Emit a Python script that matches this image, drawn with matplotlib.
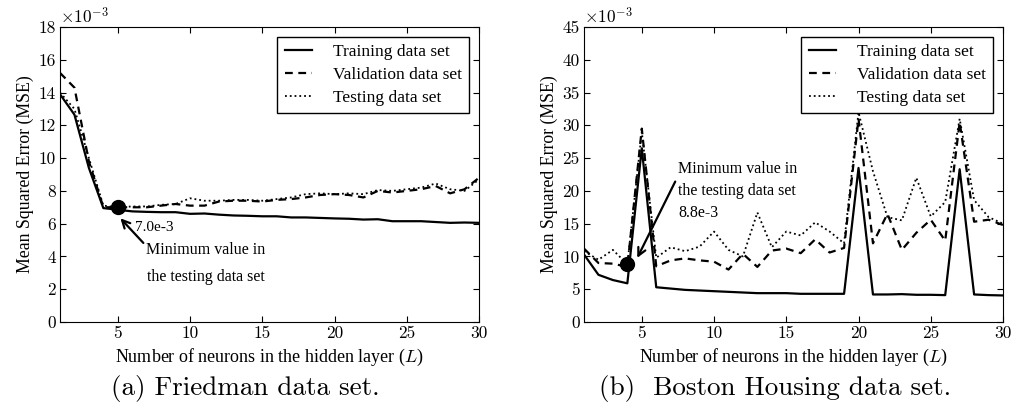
import numpy as np
import matplotlib.pyplot as plt

plt.rcParams['font.family'] = ['Liberation Serif', 'DejaVu Serif']
plt.rcParams['mathtext.fontset'] = 'cm'

neurons = np.arange(1, 31)

# values in units of 1e-3
fried_train = [13.9, 12.65, 9.4, 6.95, 6.85, 6.75, 6.72, 6.7, 6.7, 6.6,
               6.62, 6.55, 6.5, 6.48, 6.45, 6.45, 6.38, 6.38, 6.35, 6.32,
               6.3, 6.25, 6.27, 6.15, 6.15, 6.15, 6.1, 6.05, 6.07, 6.05]
fried_val = [15.2, 14.3, 9.8, 7.0, 7.0, 7.0, 7.0, 7.1, 7.2, 7.1,
             7.1, 7.35, 7.4, 7.4, 7.35, 7.45, 7.5, 7.6, 7.75, 7.8,
             7.75, 7.6, 8.0, 7.9, 8.0, 8.1, 8.3, 7.85, 8.1, 8.8]
fried_test = [14.0, 13.0, 10.0, 7.1, 7.0, 7.05, 7.05, 7.15, 7.2, 7.55,
              7.4, 7.4, 7.45, 7.45, 7.4, 7.5, 7.6, 7.8, 7.85, 7.8,
              7.85, 7.8, 8.05, 8.0, 8.1, 8.2, 8.45, 8.1, 8.0, 8.7]

boston_train = [10.3, 7.2, 6.4, 5.9, 26.5, 5.3, 5.1, 4.9, 4.8, 4.7,
                4.6, 4.5, 4.4, 4.4, 4.4, 4.3, 4.3, 4.3, 4.3, 23.5,
                4.2, 4.2, 4.25, 4.15, 4.15, 4.1, 23.3, 4.2, 4.1, 4.05]
boston_val = [11.2, 9.0, 8.9, 8.4, 29.5, 8.5, 9.4, 9.7, 9.4, 9.2,
              8.0, 10.4, 8.4, 10.9, 11.2, 10.5, 12.6, 10.6, 11.3, 31.0,
              12.0, 16.5, 11.0, 13.6, 15.6, 12.4, 30.5, 15.3, 15.6, 14.8]
boston_test = [10.8, 9.5, 11.0, 8.8, 29.0, 9.8, 11.4, 10.8, 11.5, 13.8,
               11.0, 10.0, 16.7, 11.4, 13.8, 13.2, 15.2, 13.8, 12.0, 32.0,
               23.0, 16.0, 15.5, 22.0, 16.1, 18.3, 31.0, 18.6, 16.0, 15.0]

panels = [
    dict(train=fried_train, val=fried_val, test=fried_test, ymax=18, ystep=2,
         best=5, best_val=7.0, caption='(a) Friedman data set.', cx=245),
    dict(train=boston_train, val=boston_val, test=boston_test, ymax=45, ystep=5,
         best=4, best_val=8.8, caption='(b)  Boston Housing data set.', cx=775),
]

fig = plt.figure(figsize=(10.12, 4.05), dpi=100)
ax1 = fig.add_axes([60/1012, 1-322/405, 419/1012, 295/405])
ax2 = fig.add_axes([584/1012, 1-322/405, 419/1012, 295/405])

for ax, p in zip([ax1, ax2], panels):
    ax.plot(neurons, p['train'], color='black', lw=1.6, ls='-', label='Training data set')
    ax.plot(neurons, p['val'], color='black', lw=1.6, dashes=(3.5, 2.5), label='Validation data set')
    ax.plot(neurons, p['test'], color='black', lw=1.3, ls=':', label='Testing data set')
    ax.plot([p['best']], [p['best_val']], 'o', color='black', ms=10, zorder=5)
    ax.set_xlim(1, 30)
    ax.set_ylim(0, p['ymax'])
    ax.set_xticks([5, 10, 15, 20, 25, 30])
    ax.set_yticks(np.arange(0, p['ymax'] + 1, p['ystep']))
    ax.tick_params(direction='in', top=True, right=True, length=4, labelsize=12.5,
                   labelfontfamily='cmr10', pad=3)
    ax.set_xlabel('Number of neurons in the hidden layer ($L$)', fontsize=13, labelpad=4)
    ax.set_ylabel('Mean Squared Error (MSE)', fontsize=12.8, labelpad=3)
    ax.text(0.0, 1.0, r'$\times10^{-3}$', transform=ax.transAxes, fontsize=12.5,
            ha='left', va='bottom')
    leg = ax.legend(loc='upper right', fontsize=12.5, fancybox=False, edgecolor='black',
                    framealpha=1, handlelength=1.6, handletextpad=1.2,
                    borderaxespad=0.55, labelspacing=0.4, borderpad=0.42)
    leg.get_frame().set_linewidth(1.0)
    fig.text(p['cx']/1012, 1-388/405, p['caption'], fontfamily='cmr10', fontsize=19.5,
             ha='center', va='center')

ax1.annotate('', xy=(5.05, 6.45), xytext=(6.9, 4.7),
             arrowprops=dict(arrowstyle='->', color='black', lw=1.6, mutation_scale=14))
ax1.text(6.2, 5.75, '7.0e-3', fontsize=11, ha='left', va='center')
ax1.text(11.1, 3.57, 'Minimum value in\nthe testing data set', fontsize=11.5,
         ha='center', va='center', multialignment='center', linespacing=1.9)

ax2.annotate('', xy=(4.6, 9.4), xytext=(7.4, 21.8),
             arrowprops=dict(arrowstyle='->', color='black', lw=1.6, mutation_scale=14))
ax2.text(7.5, 24.6, 'Minimum value in\nthe testing data set\n8.8e-3', fontsize=11.5,
         ha='left', va='top', linespacing=1.5)

fig.savefig('out.png', dpi=100)
